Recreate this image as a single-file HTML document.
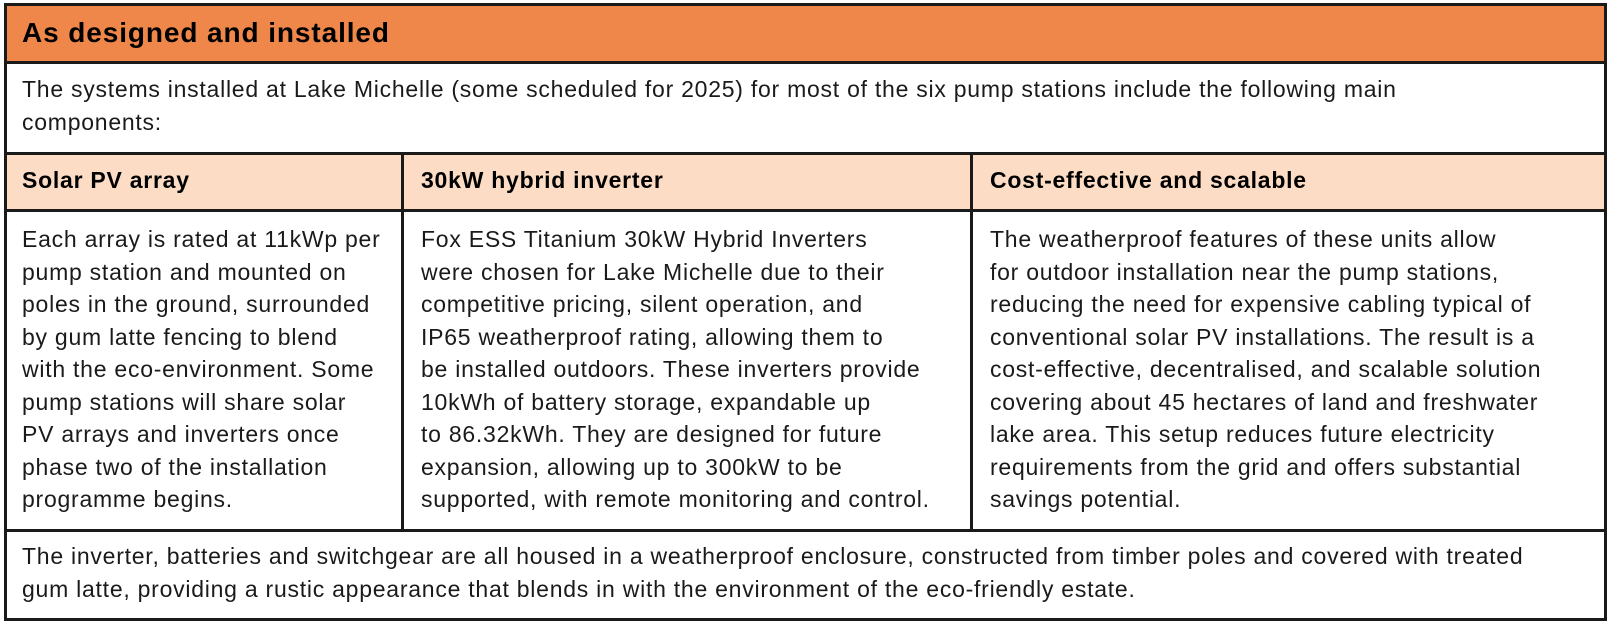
<!DOCTYPE html>
<html><head><meta charset="utf-8"><style>
body{margin:0;width:1610px;height:644px;background:#fff;position:relative;overflow:hidden;font-family:"Liberation Sans",sans-serif;color:#1a1a1a}
.b{position:absolute;box-sizing:border-box}
.t{position:absolute;white-space:nowrap;font-size:23px;letter-spacing:0.75px;line-height:32.5px}
</style></head><body>
<div class="b" style="left:4px;top:3px;width:1603px;height:618px;border:3px solid #1a1a1a"></div>
<div class="b" style="left:7px;top:6px;width:1597px;height:56px;background:#F0874A"></div>
<div class="b" style="left:4px;top:61px;width:1603px;height:3px;background:#1a1a1a"></div>
<div class="b" style="left:4px;top:152px;width:1603px;height:3px;background:#1a1a1a"></div>
<div class="b" style="left:7px;top:155px;width:1597px;height:54px;background:#FCDCC4"></div>
<div class="b" style="left:4px;top:209px;width:1603px;height:3px;background:#1a1a1a"></div>
<div class="b" style="left:4px;top:529px;width:1603px;height:3px;background:#1a1a1a"></div>
<div class="b" style="left:401px;top:152px;width:3px;height:380px;background:#1a1a1a"></div>
<div class="b" style="left:970px;top:152px;width:3px;height:380px;background:#1a1a1a"></div>

<div class="t" style="left:22px;top:16px;font-size:28px;letter-spacing:0.9px;font-weight:bold;line-height:34px;color:#000">As designed and installed</div>
<div class="t" style="left:22px;top:73px">The systems installed at Lake Michelle (some scheduled for 2025) for most of the six pump stations include the following main<br>components:</div>
<div class="t" style="left:22px;top:164px;font-weight:bold;color:#000">Solar PV array</div>
<div class="t" style="left:421px;top:164px;font-weight:bold;color:#000">30kW hybrid inverter</div>
<div class="t" style="left:990px;top:164px;font-weight:bold;color:#000">Cost-effective and scalable</div>
<div class="t" style="left:22px;top:223px">Each array is rated at 11kWp per<br>pump station and mounted on<br>poles in the ground, surrounded<br>by gum latte fencing to blend<br>with the eco-environment. Some<br>pump stations will share solar<br>PV arrays and inverters once<br>phase two of the installation<br>programme begins.</div>
<div class="t" style="left:421px;top:223px">Fox ESS Titanium 30kW Hybrid Inverters<br>were chosen for Lake Michelle due to their<br>competitive pricing, silent operation, and<br>IP65 weatherproof rating, allowing them to<br>be installed outdoors. These inverters provide<br>10kWh of battery storage, expandable up<br>to 86.32kWh. They are designed for future<br>expansion, allowing up to 300kW to be<br>supported, with remote monitoring and control.</div>
<div class="t" style="left:990px;top:223px">The weatherproof features of these units allow<br>for outdoor installation near the pump stations,<br>reducing the need for expensive cabling typical of<br>conventional solar PV installations. The result is a<br>cost-effective, decentralised, and scalable solution<br>covering about 45 hectares of land and freshwater<br>lake area. This setup reduces future electricity<br>requirements from the grid and offers substantial<br>savings potential.</div>
<div class="t" style="left:22px;top:540px">The inverter, batteries and switchgear are all housed in a weatherproof enclosure, constructed from timber poles and covered with treated<br>gum latte, providing a rustic appearance that blends in with the environment of the eco-friendly estate.</div>
</body></html>
